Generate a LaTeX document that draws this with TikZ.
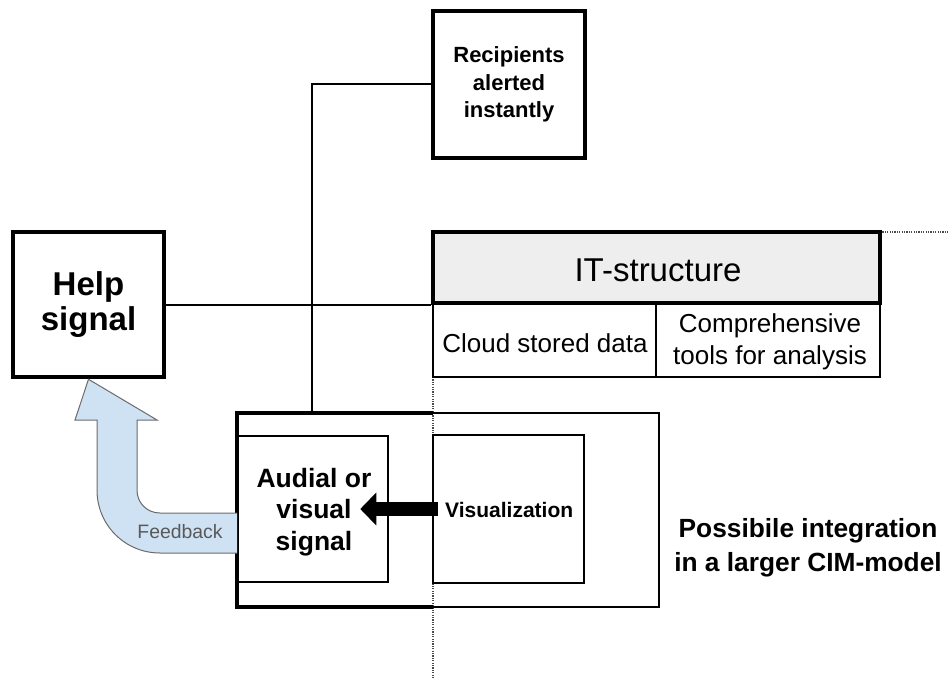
\documentclass[tikz,border=0pt]{standalone}
\usepackage{fontspec}
\setmainfont{Liberation Sans}
\usetikzlibrary{arrows.meta}
\definecolor{hdrgray}{HTML}{EEEEEE}
\definecolor{fbblue}{HTML}{CFE2F3}
\definecolor{fbedge}{HTML}{6B6B6B}
\definecolor{fbtext}{HTML}{595959}
\begin{document}
\begin{tikzpicture}[x=1pt,y=-1pt,
  thickbox/.style={draw, line width=4.5pt, inner sep=0pt, align=center},
  midbox/.style={draw, line width=2.5pt, inner sep=0pt, align=center},
  cellbox/.style={draw, line width=2pt, inner sep=0pt, align=center,
    minimum width=223pt, minimum height=74pt,
    font=\fontsize{26}{31.5}\selectfont},
  wire/.style={line width=2pt},
  guide/.style={line width=1.2pt, black!70, dash pattern=on 1.2pt off 1.2pt}]
\useasboundingbox (0,0) rectangle (949,679);

% dotted guide lines
\draw[guide] (880,232) -- (949,232);
\draw[guide] (433,377) -- (433,679);

% outer frame around the signal and visualization boxes
\node[draw, line width=1.2pt, minimum width=422pt, minimum height=194pt, inner sep=0pt]
  (frame) at (448,510) {};
\draw[line width=4pt] (433,413) -- (237,413) -- (237,607) -- (433,607);

% boxes
\node[thickbox, minimum width=151pt, minimum height=145pt,
  font=\fontsize{33}{35}\selectfont\bfseries] (help) at (88.5,304.5) {Help\\signal};
\node[thickbox, minimum width=152pt, minimum height=147pt,
  font=\fontsize{22}{27.5}\selectfont\bfseries] (rec) at (509,84.5)
  {Recipients\\alerted\\instantly};
\node[thickbox, line width=4pt, fill=hdrgray, minimum width=447pt, minimum height=71pt] (hdr) at (656.5,267.5) {};
\node[inner sep=0pt, font=\fontsize{33}{36}\selectfont] (hdrlbl) at (658,270) {IT-structure};
\node[cellbox] (cloud) at (544.5,340) {};
\node[inner sep=0pt, font=\fontsize{26}{31.5}\selectfont] (cloudlbl) at (545,343) {Cloud stored data};
\node[cellbox, minimum width=224pt] (tools) at (768,340) {};
\node[inner sep=0pt, align=center, font=\fontsize{26}{31.5}\selectfont] (toolslbl) at (770,342)
  {Comprehensive\\tools for analysis};
\node[midbox, minimum width=150pt, minimum height=146pt] (aud) at (313,509) {};
\node[inner sep=0pt, align=center, font=\fontsize{26.5}{31.5}\selectfont\bfseries]
  (audlbl) at (314,512) {Audial or\\visual\\signal};
\node[midbox, minimum width=151pt, minimum height=148pt] (vis) at (508.5,509) {};
\node[anchor=base west, inner sep=0pt, font=\fontsize{21}{24}\selectfont\bfseries]
  (vislbl) at (445,517) {Visualization};
\node[align=center, inner sep=0pt, font=\fontsize{26.3}{34}\selectfont\bfseries]
  (cim) at (808,548) {Possibile integration\\in a larger CIM-model};

% connectors
\coordinate (tap) at (312,413);
\draw[wire] (help.east) -- (help.east -| hdr.west);
\draw[wire] (rec.west) -| (tap);

% heavy arrow from visualization to the signal box
\draw[line width=14pt, -{Triangle[length=16pt,width=32pt]}]
  ([xshift=6pt]vis.west) -- ([xshift=-29pt]aud.east);

% feedback arrow back to the help signal
\draw[fbedge, fill=fbblue, line width=1pt, line join=miter]
  (237,553) -- (160,553)
  .. controls (125,553) and (97,525) .. (97,490)
  -- (97,420) -- (75,420) -- (help.south) -- (157,420) -- (137,420)
  -- (137,490)
  .. controls (137,503) and (147,513) .. (160,513)
  -- (237,513);
\node[fbtext, inner sep=0pt, font=\fontsize{19.4}{22}\selectfont] (fb) at (180,532) {Feedback};
\end{tikzpicture}
\end{document}
